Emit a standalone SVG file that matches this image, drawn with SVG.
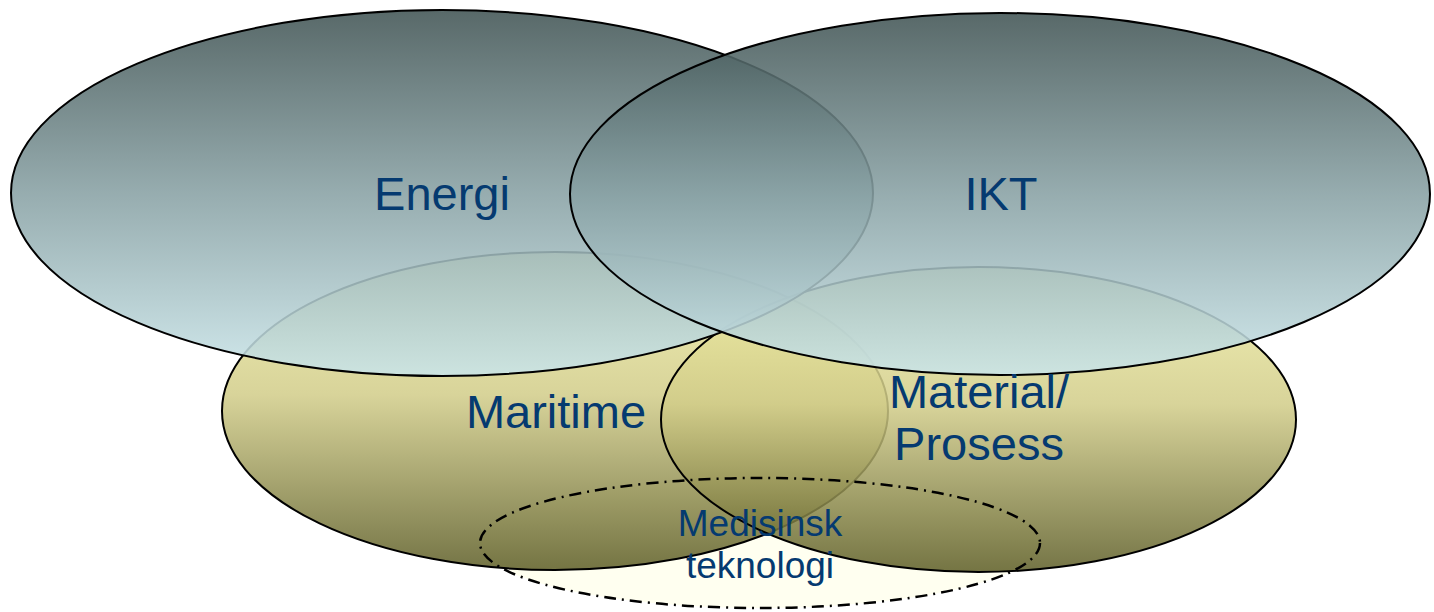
<svg xmlns="http://www.w3.org/2000/svg" width="1434" height="612" viewBox="0 0 1434 612">
  <defs>
    <linearGradient id="gBlue" x1="0" y1="0" x2="0" y2="1">
      <stop offset="0" stop-color="#415454"/>
      <stop offset="0.5" stop-color="#88a1a4"/>
      <stop offset="1" stop-color="#cae5e9"/>
    </linearGradient>
    <linearGradient id="gOlive" x1="0" y1="0" x2="0" y2="1">
      <stop offset="0" stop-color="#f2f0a7"/>
      <stop offset="0.45" stop-color="#d1cc88"/>
      <stop offset="1" stop-color="#5c5c25"/>
    </linearGradient>
    <style>
      .blue { fill: url(#gBlue); fill-opacity: 0.88; stroke: #000; stroke-width: 2; }
      .olive { fill: url(#gOlive); fill-opacity: 0.85; stroke: #000; stroke-width: 2; }
      .med-fill { fill: #fffff0; stroke: none; }
      .med-line { fill: none; stroke: #000; stroke-width: 2.5; stroke-dasharray: 12 6 2 6; }
      .lbl { font-family: "Liberation Sans", Arial, sans-serif; fill: #053a70; text-anchor: middle; }
      .big { font-size: 47px; }
      .small { font-size: 37px; }
    </style>
  </defs>
  <rect width="1434" height="612" fill="#ffffff"/>
  <ellipse class="med-fill" cx="760" cy="543" rx="280" ry="65"/>
  <g id="maritime">
    <ellipse class="olive" cx="555" cy="411" rx="333" ry="159"/>
  </g>
  <g id="material-prosess">
    <ellipse class="olive" cx="978.5" cy="419.5" rx="317.5" ry="152.5"/>
  </g>
  <g id="energi">
    <ellipse class="blue" cx="442" cy="193" rx="431" ry="183"/>
  </g>
  <g id="ikt">
    <ellipse class="blue" cx="1000" cy="194" rx="430" ry="181"/>
  </g>
  <g id="medisinsk-teknologi">
    <ellipse class="med-line" cx="760" cy="543" rx="280" ry="65"/>
  </g>
  <g id="labels">
    <text class="lbl big" x="442" y="210">Energi</text>
    <text class="lbl big" x="1001" y="210">IKT</text>
    <text class="lbl big" x="556" y="428">Maritime</text>
    <text class="lbl big" x="979" y="408">Material/</text>
    <text class="lbl big" x="979" y="460">Prosess</text>
    <text class="lbl small" x="760" y="536">Medisinsk</text>
    <text class="lbl small" x="760" y="578">teknologi</text>
  </g>
</svg>
